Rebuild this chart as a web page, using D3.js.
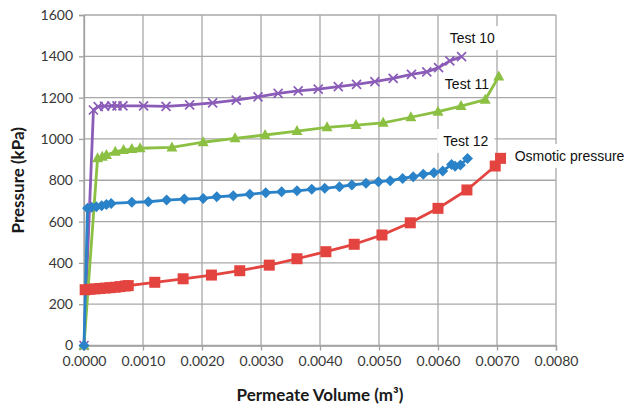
<!DOCTYPE html>
<html>
<head>
<meta charset="utf-8">
<script src="https://cdn.jsdelivr.net/npm/d3@7"></script>
<style>
    body { margin: 0; background: #fff; }
    svg { display: block; }
    .tick text { font-family: Lato, sans-serif; font-size: 14px; fill: #383838; }
    .axis-title { font-family: Lato, sans-serif; font-size: 17px; font-weight: bold; fill: #1a1a1a; }
    .label { font-family: "Liberation Sans", Arial, sans-serif; font-size: 14px; fill: #111; }
</style>
</head>
<body>
<div id="chart"></div>
<script>
// Permeate volume (m3) and pressure (kPa)
const test10Volume = [0, 0.00016, 0.00024, 0.00035, 0.00047, 0.00056, 0.00066, 0.00101, 0.00139, 0.00179, 0.00218, 0.00258, 0.00295, 0.00329, 0.00363, 0.00397, 0.00431, 0.00462, 0.00493, 0.00524, 0.00555, 0.00581, 0.00601, 0.00620, 0.00640];
const test10Pressure = [0, 1140, 1156, 1159, 1160, 1160, 1160, 1160, 1158, 1165, 1175, 1188, 1204, 1221, 1233, 1241, 1253, 1264, 1277, 1293, 1313, 1325, 1345, 1378, 1398];

const test11Volume = [0, 0.00023, 0.00031, 0.00038, 0.00053, 0.00067, 0.00081, 0.00095, 0.00149, 0.00202, 0.00256, 0.00307, 0.00361, 0.00412, 0.00461, 0.00507, 0.00554, 0.00600, 0.00639, 0.00680, 0.00703];
const test11Pressure = [0, 906, 914, 922, 938, 946, 951, 955, 959, 984, 1003, 1019, 1038, 1056, 1067, 1078, 1105, 1132, 1159, 1190, 1302];

const test12Volume = [0, 0.00006, 0.00013, 0.00021, 0.0003, 0.00038, 0.00046, 0.00081, 0.00109, 0.0014, 0.0017, 0.00202, 0.00225, 0.00253, 0.00281, 0.00308, 0.00335, 0.00361, 0.00386, 0.00408, 0.00433, 0.00454, 0.00478, 0.00499, 0.00519, 0.00540, 0.00558, 0.00575, 0.00593, 0.00608, 0.00623, 0.00629, 0.00638, 0.00650];
const test12Pressure = [0, 664, 669, 672, 677, 683, 688, 693, 696, 704, 709, 712, 720, 725, 732, 740, 744, 749, 756, 761, 769, 777, 785, 793, 798, 809, 817, 829, 836, 845, 876, 868, 874, 905];

const osmoticVolume = [0.00002, 0.0001, 0.00019, 0.00027, 0.00036, 0.00044, 0.00053, 0.00061, 0.0007, 0.00075, 0.0012, 0.00168, 0.00216, 0.00264, 0.00314, 0.00361, 0.0041, 0.00458, 0.00505, 0.00553, 0.006, 0.00649, 0.00697, 0.00706];
const osmoticPressure = [270, 272, 274, 276, 278, 280, 282, 285, 288, 290, 306, 323, 341, 362, 389, 420, 454, 490, 535, 594, 664, 753, 869, 906];

const xTicks = [0, 0.001, 0.002, 0.003, 0.004, 0.005, 0.006, 0.007, 0.008];
const yTicks = [0, 200, 400, 600, 800, 1000, 1200, 1400, 1600];

const series = [
    { name: 'Test 10', volume: test10Volume, pressure: test10Pressure, color: '#8a5cb8', marker: 'x', label: [0.00658, 1488, 'middle'] },
    { name: 'Test 11', volume: test11Volume, pressure: test11Pressure, color: '#8cc043', marker: 'triangle', label: [0.00649, 1266, 'middle'] },
    { name: 'Test 12', volume: test12Volume, pressure: test12Pressure, color: '#2a82c8', marker: 'diamond', label: [0.00647, 990, 'middle'] },
    { name: 'Osmotic pressure', volume: osmoticVolume, pressure: osmoticPressure, color: '#e3443f', marker: 'square', label: [0.0073, 917, 'start'] }
];

const width = 630;
const height = 405;
const margin = { top: 15, right: 74, bottom: 59.5, left: 84 };
const innerW = width - margin.left - margin.right;
const innerH = height - margin.top - margin.bottom;

const svg = d3.select('#chart')
    .append('svg')
    .attr('width', width)
    .attr('height', height);

const g = svg.append('g')
    .attr('transform', `translate(${margin.left}, ${margin.top})`);

const x = d3.scaleLinear().domain([0, 0.008]).range([0, innerW]);
const y = d3.scaleLinear().domain([0, 1600]).range([innerH, 0]);

// Gridlines
g.append('g')
    .selectAll('line')
    .data(xTicks)
    .enter()
    .append('line')
    .attr('x1', d => x(d)).attr('x2', d => x(d))
    .attr('y1', 0).attr('y2', innerH)
    .attr('stroke', '#a8a8a8').attr('stroke-width', 1.3);

g.append('g')
    .selectAll('line')
    .data(yTicks)
    .enter()
    .append('line')
    .attr('x1', 0).attr('x2', innerW)
    .attr('y1', d => y(d)).attr('y2', d => y(d))
    .attr('stroke', '#a8a8a8').attr('stroke-width', 1.3);

// Axes
const xAxis = g.append('g')
    .attr('transform', `translate(0, ${innerH})`)
    .call(d3.axisBottom(x).tickValues(xTicks).tickFormat(d3.format('.4f')).tickSize(5).tickPadding(6));

const yAxis = g.append('g')
    .call(d3.axisLeft(y).tickValues(yTicks).tickFormat(d3.format('d')).tickSize(5).tickPadding(6));

[xAxis, yAxis].forEach(axis => {
    axis.select('.domain').attr('stroke', '#a0a0a0').attr('stroke-width', 1.3);
    axis.selectAll('.tick line').attr('stroke', '#a0a0a0').attr('stroke-width', 1.3);
    axis.attr('font-family', null).attr('font-size', null);
});

// Axis titles
svg.append('text')
    .attr('class', 'axis-title')
    .attr('x', margin.left + innerW / 2)
    .attr('y', 401)
    .attr('text-anchor', 'middle')
    .text('Permeate Volume (m³)');

svg.append('text')
    .attr('class', 'axis-title')
    .attr('transform', `translate(24, ${margin.top + innerH / 2}) rotate(-90)`)
    .attr('text-anchor', 'middle')
    .text('Pressure (kPa)');

// Series labels with white boxes (under the lines)
series.forEach(s => {
    const [lv, lp, anchor] = s.label;
    const lbl = g.append('g')
        .attr('transform', `translate(${x(lv)}, ${y(lp)})`);
    const text = lbl.append('text')
        .attr('class', 'label')
        .attr('text-anchor', anchor)
        .attr('dy', '0.35em')
        .text(s.name);
    const box = text.node().getBBox();
    lbl.insert('rect', 'text')
        .attr('x', box.x - 6).attr('y', box.y - 4)
        .attr('width', box.width + 12).attr('height', box.height + 8)
        .attr('fill', '#fff');
});

// Markers
function drawMarker(sel, type, color) {
    if (type === 'x') {
        sel.append('path')
            .attr('d', 'M-4.5,-4.5L4.5,4.5M-4.5,4.5L4.5,-4.5')
            .attr('stroke', color).attr('stroke-width', 1.7).attr('fill', 'none');
    } else if (type === 'triangle') {
        sel.append('path')
            .attr('d', 'M0,-6L5.5,4L-5.5,4Z')
            .attr('fill', color);
    } else if (type === 'diamond') {
        sel.append('path')
            .attr('d', 'M0,-5.5L5.5,0L0,5.5L-5.5,0Z')
            .attr('fill', color);
    } else {
        sel.append('rect')
            .attr('x', -5.5).attr('y', -5.5).attr('width', 11).attr('height', 11)
            .attr('fill', color);
    }
}

const line = d3.line()
    .x(d => x(d[0]))
    .y(d => y(d[1]));

series.forEach(s => {
    const points = s.volume.map((v, i) => [v, s.pressure[i]]);

    g.append('path')
        .datum(points)
        .attr('d', line)
        .attr('fill', 'none')
        .attr('stroke', s.color)
        .attr('stroke-width', 2.8)
        .attr('stroke-linejoin', 'round');

    g.append('g')
        .selectAll('g')
        .data(points)
        .enter()
        .append('g')
        .attr('transform', d => `translate(${x(d[0])}, ${y(d[1])})`)
        .each(function () { drawMarker(d3.select(this), s.marker, s.color); });
});
</script>
</body>
</html>
